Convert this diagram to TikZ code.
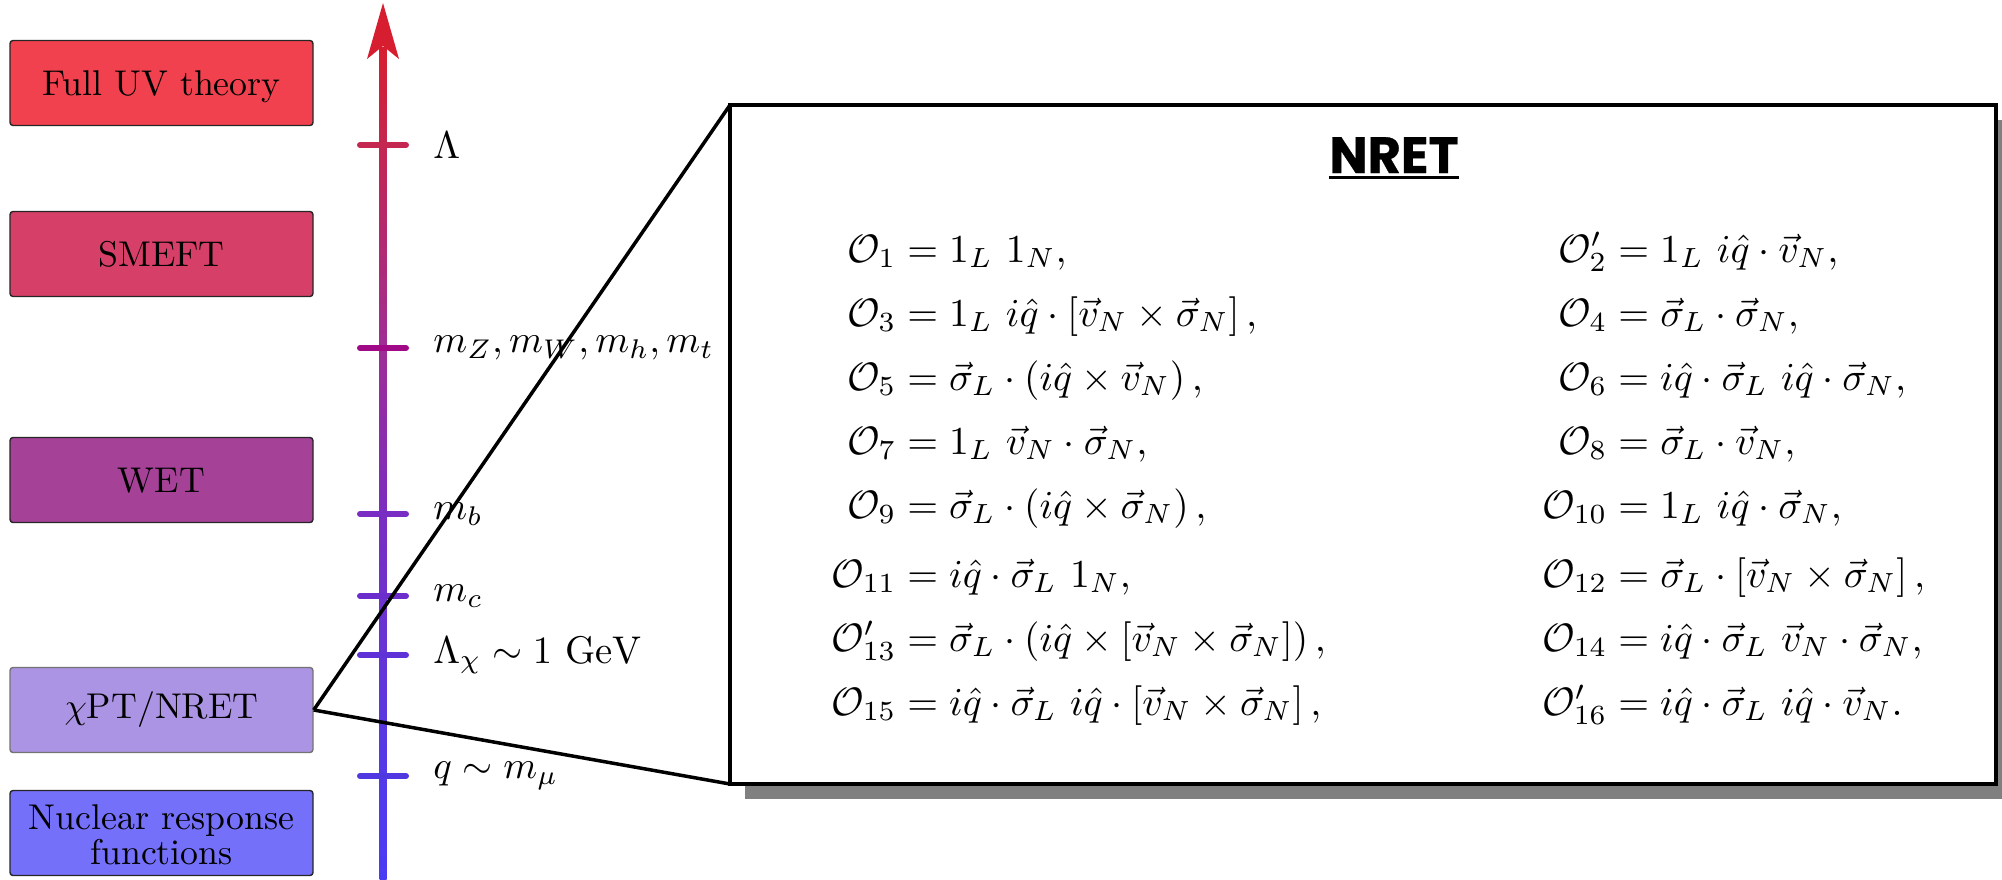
\documentclass[tikz,border=0pt]{standalone}
\usepackage{amsmath}
\usepackage{mathtools}
\usepackage{graphicx}
\usepackage{fontspec}
\newfontfamily\titlefont{Poppins}[BoldFeatures={FakeBold=0.6}]
\usetikzlibrary{shadows}
\definecolor{cUV}{RGB}{242,65,78}
\definecolor{cSM}{RGB}{214,64,104}
\definecolor{cWET}{RGB}{165,66,152}
\definecolor{cCPT}{RGB}{172,148,228}
\definecolor{cNUC}{RGB}{117,112,250}
\definecolor{ax0}{RGB}{75,58,245}
\definecolor{ax1}{RGB}{82,58,232}
\definecolor{ax2}{RGB}{122,45,192}
\definecolor{ax3}{RGB}{158,45,150}
\definecolor{ax4}{RGB}{196,38,80}
\definecolor{ax5}{RGB}{215,30,48}
\definecolor{tL}{RGB}{196,40,80}
\definecolor{tZ}{RGB}{160,10,135}
\definecolor{tB}{RGB}{122,45,195}
\definecolor{tC}{RGB}{108,45,205}
\definecolor{tX}{RGB}{95,50,215}
\definecolor{tQ}{RGB}{80,56,225}
\pgfdeclareverticalshading{axisshade}{100bp}{color(0bp)=(ax0); color(25bp)=(ax0); color(31.2bp)=(ax1); color(46.95bp)=(ax2); color(56.9bp)=(ax3); color(69.1bp)=(ax4); color(75bp)=(ax5); color(100bp)=(ax5)}
\newcommand\boxtxt[2][-3.42pt]{\scalebox{1.79}{\raisebox{#1}[0pt][0pt]{#2}}}
\newcommand\mth[1]{\scalebox{1.98}{$#1$}}
\newcommand\lbl[1]{\scalebox{1.93}{$#1$}}
\tikzset{
  lvl/.style={draw=black!85, rounded corners=1.5pt, line width=0.7pt, minimum width=151.5pt, minimum height=42.5pt, inner sep=0pt, align=center, font=\fontsize{10}{12}\selectfont},
  tickmark/.style={line width=3pt, line cap=round},
  lab/.style={anchor=west, inner sep=0pt, font=\fontsize{10}{12}\selectfont},
  eq/.style={anchor=base west, inner sep=0pt, font=\fontsize{10}{12}\selectfont},
  zoomline/.style={line width=1.75pt, black, line join=miter}
}
\begin{document}
\begin{tikzpicture}[x=0.5pt,y=-0.5pt]
\useasboundingbox (0,0) rectangle (2002,879);
% axis
\shade[shading=axisshade] (379.5,47) rectangle (386.5,879);
\fill[ax5] (383,3) -- (399,59) -- (383,46) -- (367,59) -- cycle;
% ticks
\draw[tickmark, tL] (360,145) -- (406,145);
\draw[tickmark, tZ] (360,348) -- (406,348);
\draw[tickmark, tB] (360,514) -- (406,514);
\draw[tickmark, tC] (360,596) -- (406,596);
\draw[tickmark, tX] (360,655) -- (406,655);
\draw[tickmark, tQ] (360,776) -- (406,776);
% scale labels
\node[lab] (lL) at (433,145) {\lbl{\Lambda}};
\node[lab] (lZ) at (433,348) {\lbl{m_Z, m_W, m_h, m_t}};
\node[lab] (lB) at (433,514) {\lbl{m_b}};
\node[lab] (lC) at (433,596) {\lbl{m_c}};
\node[lab] (lX) at (433,655) {\lbl{\Lambda_\chi \sim 1\ \mathrm{GeV}}};
\node[lab] (lQ) at (433,776) {\lbl{q \sim m_\mu}};
% theory boxes
\node[lvl, fill=cUV] (uv) at (161.5,83) {\boxtxt{Full UV theory}};
\node[lvl, fill=cSM] (smeft) at (161.5,254) {\boxtxt{SMEFT}};
\node[lvl, fill=cWET] (wet) at (161.5,480) {\boxtxt{WET}};
\node[lvl, fill=cCPT, draw=black!55] (cpt) at (161.5,710) {\boxtxt[-2.45pt]{$\chi$PT/NRET}};
\node[lvl, fill=cNUC] (nuc) at (161.5,833) {\boxtxt[-4.42pt]{\renewcommand\arraystretch{0.77}\begin{tabular}{@{}c@{}}Nuclear response\\functions\end{tabular}}};
% NRET panel
\node[draw, line width=1.75pt, fill=white, minimum width=633pt, minimum height=339.5pt, outer sep=0pt, inner sep=0pt,
  drop shadow={shadow xshift=7.5pt, shadow yshift=-7.5pt, fill=gray, opacity=1}] (nret) at (1363,444.5) {};
\node[anchor=base, inner sep=0pt, font=\titlefont\bfseries\fontsize{25.5}{30}\selectfont] (title) at (1394,173) {NRET};
\draw[line width=1.5pt] ([yshift=-2.4pt]title.base west) -- ([yshift=-2.4pt]title.base east);
% left column
\node[eq] (e1) at (896,262) {\mth{\mathllap{\mathcal{O}_1} = 1_L\ 1_N,}};
\node[eq] (e3) at (896,326) {\mth{\mathllap{\mathcal{O}_3} = 1_L\ i\hat{q}\cdot\left[\vec{v}_N\times\vec{\sigma}_N\right],}};
\node[eq] (e5) at (896,390) {\mth{\mathllap{\mathcal{O}_5} = \vec{\sigma}_L\cdot\left(i\hat{q}\times\vec{v}_N\right),}};
\node[eq] (e7) at (896,454) {\mth{\mathllap{\mathcal{O}_7} = 1_L\ \vec{v}_N\cdot\vec{\sigma}_N,}};
\node[eq] (e9) at (896,518) {\mth{\mathllap{\mathcal{O}_9} = \vec{\sigma}_L\cdot\left(i\hat{q}\times\vec{\sigma}_N\right),}};
\node[eq] (e11) at (896,587) {\mth{\mathllap{\mathcal{O}_{11}} = i\hat{q}\cdot\vec{\sigma}_L\ 1_N,}};
\node[eq] (e13) at (896,651) {\mth{\mathllap{\mathcal{O}'_{13}} = \vec{\sigma}_L\cdot\left(i\hat{q}\times\left[\vec{v}_N\times\vec{\sigma}_N\right]\right),}};
\node[eq] (e15) at (896,715) {\mth{\mathllap{\mathcal{O}_{15}} = i\hat{q}\cdot\vec{\sigma}_L\ i\hat{q}\cdot\left[\vec{v}_N\times\vec{\sigma}_N\right],}};
% right column
\node[eq] (e2) at (1607,262) {\mth{\mathllap{\mathcal{O}'_2} = 1_L\ i\hat{q}\cdot\vec{v}_N,}};
\node[eq] (e4) at (1607,326) {\mth{\mathllap{\mathcal{O}_4} = \vec{\sigma}_L\cdot\vec{\sigma}_N,}};
\node[eq] (e6) at (1607,390) {\mth{\mathllap{\mathcal{O}_6} = i\hat{q}\cdot\vec{\sigma}_L\ i\hat{q}\cdot\vec{\sigma}_N,}};
\node[eq] (e8) at (1607,454) {\mth{\mathllap{\mathcal{O}_8} = \vec{\sigma}_L\cdot\vec{v}_N,}};
\node[eq] (e10) at (1607,518) {\mth{\mathllap{\mathcal{O}_{10}} = 1_L\ i\hat{q}\cdot\vec{\sigma}_N,}};
\node[eq] (e12) at (1607,587) {\mth{\mathllap{\mathcal{O}_{12}} = \vec{\sigma}_L\cdot\left[\vec{v}_N\times\vec{\sigma}_N\right],}};
\node[eq] (e14) at (1607,651) {\mth{\mathllap{\mathcal{O}_{14}} = i\hat{q}\cdot\vec{\sigma}_L\ \vec{v}_N\cdot\vec{\sigma}_N,}};
\node[eq] (e16) at (1607,715) {\mth{\mathllap{\mathcal{O}'_{16}} = i\hat{q}\cdot\vec{\sigma}_L\ i\hat{q}\cdot\vec{v}_N.}};
% zoom connectors
\draw[zoomline] (cpt.east) -- (nret.north west);
\draw[zoomline] (cpt.east) -- (nret.south west);
\end{tikzpicture}
\end{document}
